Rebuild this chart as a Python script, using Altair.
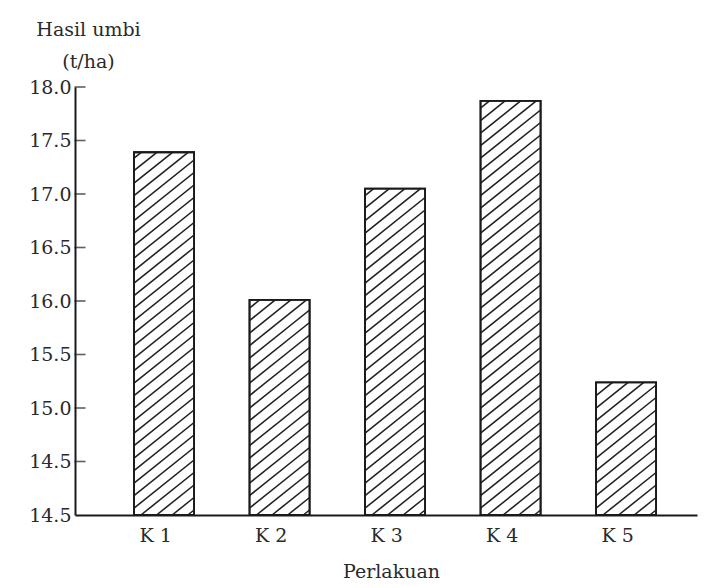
import altair as alt
import numpy as np
import pandas as pd

# ---- data ----
categories = ["K 1", "K 2", "K 3", "K 4", "K 5"]
positions = [1, 2, 3, 4, 5]
yields = [17.39, 16.01, 17.05, 17.87, 15.24]
y_ticks = [14.0, 14.5, 15.0, 15.5, 16.0, 16.5, 17.0, 17.5, 18.0]
y_title = ["Hasil umbi", "(t/ha)"]
x_title = "Perlakuan"

# ---- layout ----
PLOT_W, PLOT_H = 622, 428
Y_MIN, Y_MAX = 14.0, 18.0
X_MIN, X_MAX = 0.229, 5.614
HALF = 0.26  # half bar width in x units
FONT = "DejaVu Serif"
INK = "#1a1a1a"

bars = pd.DataFrame({
    "cat": categories,
    "pos": positions,
    "val": yields,
})
bars["x0"] = bars["pos"] - HALF
bars["x1"] = bars["pos"] + HALF
bars["base"] = Y_MIN

# ---- hatch segments derived from the bar values ----
kx = PLOT_W / (X_MAX - X_MIN)
ky = PLOT_H / (Y_MAX - Y_MIN)
slope, gap = 0.8, 12.5
segs = []
for p, v in zip(positions, yields):
    w = 2 * HALF * kx
    h = (v - Y_MIN) * ky
    c = -slope * w + gap * 0.4
    while c < h:
        xs = max(0.0, -c / slope)
        xe = min(w, (h - c) / slope)
        if xe > xs:
            segs.append({
                "hx": p - HALF + xs / kx,
                "hy": Y_MIN + (slope * xs + c) / ky,
                "hx2": p - HALF + xe / kx,
                "hy2": Y_MIN + (slope * xe + c) / ky,
            })
        c += gap
hatch = pd.DataFrame(segs)

ticks = pd.DataFrame({"t": y_ticks[1:], "x": X_MIN})

xscale = alt.Scale(domain=[X_MIN, X_MAX], nice=False, zero=False)
yscale = alt.Scale(domain=[Y_MIN, Y_MAX], nice=False, zero=False)

label_list = "[" + ",".join("'" + c + "'" for c in categories) + "]"

x_axis = alt.Axis(
    values=positions,
    labelExpr=label_list + "[datum.value - 1]",
    ticks=False,
    grid=False,
    domainColor=INK,
    domainWidth=2,
    labelFont=FONT,
    labelFontSize=19,
    labelColor="#2a2a2a",
    labelPadding=11,
    labelOffset=-9,
    title=x_title,
    titleFont=FONT,
    titleFontSize=19,
    titleFontWeight="normal",
    titleColor="#2a2a2a",
    titleBaseline="alphabetic",
    titleY=62,
    titleX=316,
)

y_axis = alt.Axis(
    values=y_ticks,
    labelExpr="datum.value == 14 ? '14.5' : format(datum.value, '.1f')",
    ticks=False,
    grid=False,
    domainColor=INK,
    domainWidth=2,
    labelFont=FONT,
    labelFontSize=19,
    labelColor="#2a2a2a",
    labelPadding=4,
    title=y_title,
    titleFont=FONT,
    titleFontSize=19,
    titleFontWeight="normal",
    titleColor="#2a2a2a",
    titleAngle=0,
    titleAlign="center",
    titleBaseline="alphabetic",
    titleX=13,
    titleY=-52,
    titleLineHeight=32,
)

bar_layer = alt.Chart(bars).mark_rect(
    fill="white", stroke=INK, strokeWidth=1.8
).encode(
    x=alt.X("x0:Q", scale=xscale, axis=x_axis),
    x2="x1:Q",
    y=alt.Y("base:Q", scale=yscale, axis=y_axis),
    y2="val:Q",
)

hatch_layer = alt.Chart(hatch).mark_rule(
    color="#222222", strokeWidth=1.6
).encode(
    x=alt.X("hx:Q", scale=xscale),
    x2="hx2:Q",
    y=alt.Y("hy:Q", scale=yscale),
    y2="hy2:Q",
)

outline_layer = alt.Chart(bars).mark_rect(
    fill="transparent", stroke=INK, strokeWidth=1.8
).encode(
    x=alt.X("x0:Q", scale=xscale),
    x2="x1:Q",
    y=alt.Y("base:Q", scale=yscale),
    y2="val:Q",
)

tick_layer = alt.Chart(ticks).mark_tick(
    orient="horizontal", size=11, thickness=1.6, color=INK, xOffset=5
).encode(
    x=alt.X("x:Q", scale=xscale),
    y=alt.Y("t:Q", scale=yscale),
)

chart = alt.layer(bar_layer, hatch_layer, outline_layer, tick_layer).properties(
    width=PLOT_W,
    height=PLOT_H,
    autosize=alt.AutoSizeParams(type="none"),
    padding={"left": 67, "top": 79, "right": 1, "bottom": 65},
    background="white",
).configure_view(strokeWidth=0)

chart.save("out.html", embed_options={"renderer": "svg", "actions": False})
